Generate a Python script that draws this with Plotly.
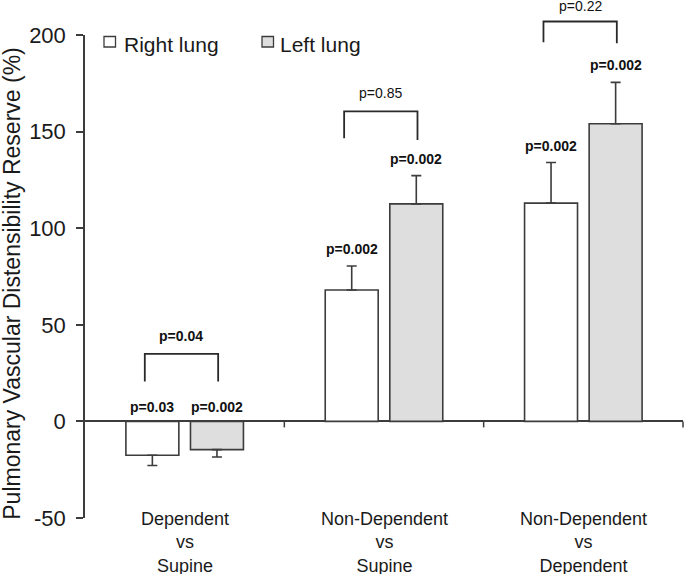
import plotly.graph_objects as go

# ---- data ----
categories = ["Dependent<br>vs<br>Supine", "Non-Dependent<br>vs<br>Supine", "Non-Dependent<br>vs<br>Dependent"]
right_vals = [-17.5, 68.0, 113.0]
right_err = [5.3, 12.4, 21.0]
left_vals = [-14.6, 112.6, 154.1]
left_err = [3.8, 14.6, 21.4]
right_p = ["p=0.03", "p=0.002", "p=0.002"]
left_p = ["p=0.002", "p=0.002", "p=0.002"]
bracket_p = ["p=0.04", "p=0.85", "p=0.22"]
bracket_bold = [True, False, False]
bracket_left_bottom = [20.7, 146.5, 196.2]
bracket_right_bottom = [20.7, 145.6, 195.7]
bracket_top = [34.9, 160.5, 207.0]
ytick_vals = [-50, 0, 50, 100, 150, 200]
ytick_text = ["-50", "0", "50", "100", "150", "200"]

# ---- layout geometry ----
W, H = 685, 574
ML, MR, MT, MB = 85, 2, 35, 55.5
YMIN, YMAX = -50, 200
XMIN, XMAX = -0.5, 2.5
PW = W - ML - MR
PH = H - MT - MB

def xp(x):
    return (x - XMIN) / (XMAX - XMIN)

def yp(y):
    return (y - YMIN) / (YMAX - YMIN)

def pxx(X):
    return (X - ML) / PW

def pxy(Y):
    return (H - MB - Y) / PH

FONT = "Liberation Sans, Arial, sans-serif"
EDGE = "#3c3c3c"
idx = list(range(len(categories)))

fig = go.Figure()
fig.add_trace(go.Bar(
    x=idx, y=right_vals, name="Right lung",
    marker=dict(color="white", line=dict(color=EDGE, width=1.6)),
    error_y=dict(type="data", symmetric=False,
                 array=[e if v >= 0 else 0 for v, e in zip(right_vals, right_err)],
                 arrayminus=[e if v < 0 else 0 for v, e in zip(right_vals, right_err)],
                 color=EDGE, thickness=1.6, width=5),
    showlegend=False,
))
fig.add_trace(go.Bar(
    x=idx, y=left_vals, name="Left lung",
    marker=dict(color="#dedede", line=dict(color=EDGE, width=1.6)),
    error_y=dict(type="data", symmetric=False,
                 array=[e if v >= 0 else 0 for v, e in zip(left_vals, left_err)],
                 arrayminus=[e if v < 0 else 0 for v, e in zip(left_vals, left_err)],
                 color=EDGE, thickness=1.6, width=5),
    showlegend=False,
))

BAR_OFF = 0.162
annotations = []
shapes = []

# p-values above bars
for i in idx:
    for off, v, e, t in ((-BAR_OFF, right_vals[i], right_err[i], right_p[i]),
                         (BAR_OFF, left_vals[i], left_err[i], left_p[i])):
        base = v + e if v >= 0 else 0
        annotations.append(dict(
            x=i + off, y=base, xref="x", yref="y", text=t, showarrow=False,
            xanchor="center", yanchor="middle", yshift=17 if v >= 0 else 14,
            font=dict(family=FONT, size=14, color="#111111", weight="bold"),
        ))

# brackets
BL, BR = -0.2, 0.168
bracket_label_shift = [18, 18, 15]
for i in idx:
    x0 = xp(i + BL)
    x1 = xp(i + BR)
    path = "M {:.5f},{:.5f} L {:.5f},{:.5f} L {:.5f},{:.5f} L {:.5f},{:.5f}".format(
        x0, yp(bracket_left_bottom[i]), x0, yp(bracket_top[i]),
        x1, yp(bracket_top[i]), x1, yp(bracket_right_bottom[i]))
    shapes.append(dict(type="path", xref="paper", yref="paper", path=path,
                       line=dict(color="#2a2a2a", width=1.8)))
    annotations.append(dict(
        x=xp(i + (BL + BR) / 2), y=yp(bracket_top[i]), xref="paper", yref="paper",
        text=bracket_p[i], showarrow=False, xanchor="center", yanchor="middle",
        yshift=bracket_label_shift[i],
        font=dict(family=FONT, size=14, color="#111111",
                  weight="bold" if bracket_bold[i] else "normal"),
    ))

# category separator ticks on the zero line
for b in (0.5, 1.5, 2.5):
    shapes.append(dict(type="line", xref="paper", yref="paper",
                       x0=xp(b), x1=xp(b), y0=yp(0), y1=yp(0) - 6 / PH,
                       line=dict(color=EDGE, width=1.5)))

# category labels
for i in idx:
    annotations.append(dict(
        x=xp(i), y=pxy(543.5), xref="paper", yref="paper", text=categories[i],
        showarrow=False, xanchor="center", yanchor="middle",
        font=dict(family=FONT, size=18, color="#1a1a1a"),
    ))

# y-axis title
annotations.append(dict(
    x=pxx(12), y=pxy(284), xref="paper", yref="paper",
    text="Pulmonary Vascular Distensibility Reserve (%)", textangle=-90,
    showarrow=False, xanchor="center", yanchor="middle",
    font=dict(family=FONT, size=23, color="#1a1a1a"),
))

# legend (boxes + labels)
legend_items = [("Right lung", "white", 104, 121.5), ("Left lung", "#dedede", 262, 278)]
for label, col, bx, tx in legend_items:
    shapes.append(dict(type="rect", xref="paper", yref="paper",
                       x0=pxx(bx), x1=pxx(bx + 11.5), y0=pxy(36.5), y1=pxy(47),
                       fillcolor=col, line=dict(color=EDGE, width=1.3)))
    annotations.append(dict(
        x=pxx(tx), y=pxy(45), xref="paper", yref="paper", text=label,
        showarrow=False, xanchor="left", yanchor="middle",
        font=dict(family=FONT, size=21, color="#1a1a1a"),
    ))

fig.update_layout(
    width=W, height=H,
    margin=dict(l=ML, r=MR, t=MT, b=MB, pad=0),
    paper_bgcolor="white", plot_bgcolor="white",
    barmode="group", bargap=0.352, bargroupgap=0.18,
    annotations=annotations, shapes=shapes,
    xaxis=dict(range=[XMIN, XMAX], showticklabels=False, showline=False,
               showgrid=False, zeroline=False, ticks=""),
    yaxis=dict(range=[YMIN, YMAX], tickvals=ytick_vals, ticktext=ytick_text,
               showline=True, automargin=False,
               linecolor=EDGE, linewidth=1.5, ticks="outside", ticklen=7,
               tickwidth=1.5, tickcolor=EDGE, showgrid=False,
               zeroline=True, zerolinecolor=EDGE, zerolinewidth=1.6,
               tickfont=dict(family=FONT, size=22, color="#1a1a1a"),
               ticklabelstandoff=6),
)

fig.write_html("out.html", config={"displayModeBar": False},
               post_script="document.body.style.margin='0';document.body.style.overflow='hidden';")
